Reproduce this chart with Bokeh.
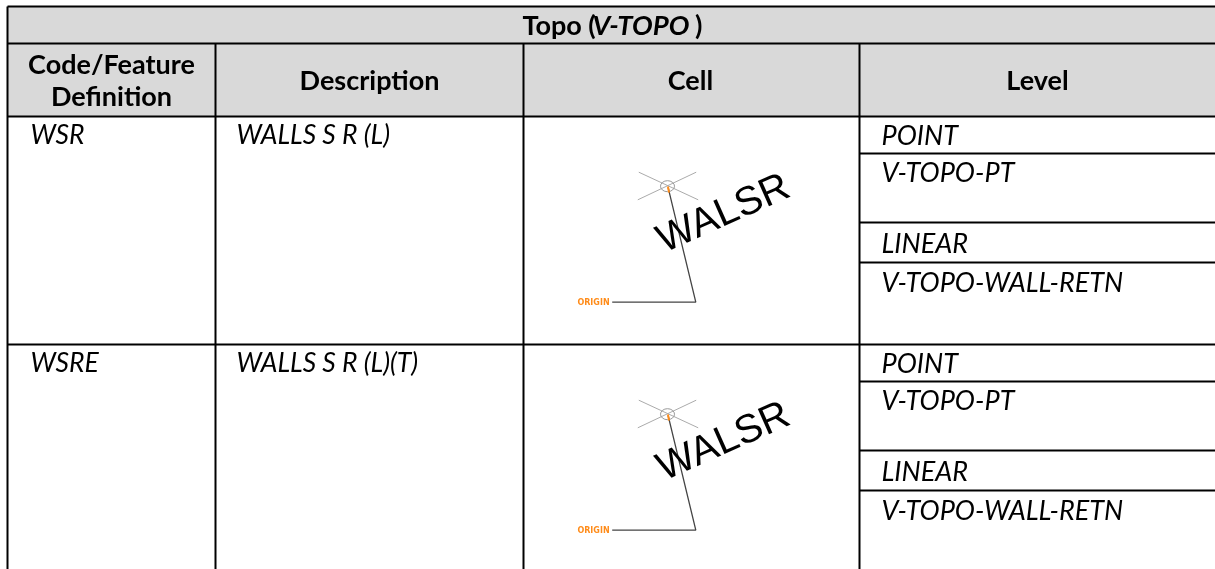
from bokeh.plotting import figure
from bokeh.models import Range1d
from bokeh.core.properties import value
from bokeh.embed import file_html
from bokeh.resources import INLINE

# table content
title_parts = ["Topo (", "V-TOPO", ")"]
headers = ["Description", "Cell", "Level"]
header_first = ["Code/Feature", "Definition"]
codes = ["WSR", "WSRE"]
descriptions = ["WALLS S R (L)", "WALLS S R (L)(T)"]
levels = ["POINT", "V-TOPO-PT", "LINEAR", "V-TOPO-WALL-RETN"]
cell_word = "WALSR"
origin_word = "ORIGIN"

# table geometry (pixels of the page)
W, H = 1215, 569
col_x = [7, 215, 523, 859]
top_y, title_y, head_y = 6, 43, 116
row_h = 228
level_lines = [37, 106, 146]
FONT = "Lato"
FS = "26.5px"
LS = "27px"
HS = "27px"

p = figure(width=W, height=H, x_range=Range1d(0, W), y_range=Range1d(H, 0),
           output_backend="svg", toolbar_location=None, min_border=0,
           outline_line_color=None, background_fill_color="white",
           border_fill_color="white", x_axis_location=None, y_axis_location=None)
p.grid.visible = False
p.styles = {"position": "fixed", "left": "0px", "top": "0px"}

# header band
p.quad(left=[col_x[0]], right=[W], top=[top_y], bottom=[head_y], fill_color="#D9D9D9", line_color=None)

# rules
hx0, hx1, hy = [col_x[0]] * 4, [W] * 4, [top_y, title_y, head_y, head_y + row_h]
p.segment(hx0, hy, hx1, hy, line_color="black", line_width=2)
p.segment([col_x[0], col_x[1], col_x[2], col_x[3]], [top_y, title_y, title_y, title_y],
          col_x, [H] * 4, line_color="black", line_width=2)
for r in range(2):
    ys = [head_y + r * row_h + d for d in level_lines]
    p.segment([col_x[3]] * 3, ys, [W] * 3, ys, line_color="black", line_width=2)

def txt(x, y, s, style="normal", align="left", size=FS, color="black", font=FONT, angle=0):
    p.text([x], [y], text=[s], text_font=value(font), text_font_size=size, text_font_style=style,
           text_align=align, text_baseline="middle", text_color=color, angle=angle, angle_units="deg")

# title
txt(522, 24, title_parts[0], "bold", size="27px")
txt(592, 24, title_parts[1], "bold italic", size="27.5px")
txt(702, 24, title_parts[2], "bold", "right", size="27px")

# column headers
txt(111, 62.5, header_first[0], "bold", "center", HS)
txt(111, 95, header_first[1], "bold", "center", HS)
txt(369, 79, headers[0], "bold", "center", HS)
txt(690, 79, headers[1], "bold", "center", HS)
txt(1037, 79, headers[2], "bold", "center", HS)

# rows
for r in range(2):
    o = r * row_h
    txt(30, 133 + o, codes[r], "italic")
    txt(236, 133 + o, descriptions[r], "italic")
    for lv, y in zip(levels, [134, 171, 242, 281]):
        txt(881, y + o, lv, "italic", size=LS)
    # cell drawing
    p.segment([638.3, 637.3], [171.7 + o, 199.3 + o], [697.7, 695.7], [199.3 + o, 171.7 + o],
              line_color="#ABABAB", line_width=1)
    p.ellipse([667], [185.7 + o], width=[14], height=[11], fill_color=None, line_color="#999999", line_width=1)
    p.line([667.7, 695.3, 611.7], [187.3 + o, 301.7 + o, 301.7 + o], line_color="#444444", line_width=1.3)
    p.segment([667.4], [186 + o], [668.6], [192 + o], line_color="#FF8C1A", line_width=2)
    txt(722, 211 + o, cell_word, "normal", "center", "40px", "black", "Liberation Sans", 24)
    txt(593, 302 + o, origin_word, "bold", "center", "8px", "#FF8C1A", "DejaVu Sans")

open("out.html", "w").write(file_html(p, INLINE))
